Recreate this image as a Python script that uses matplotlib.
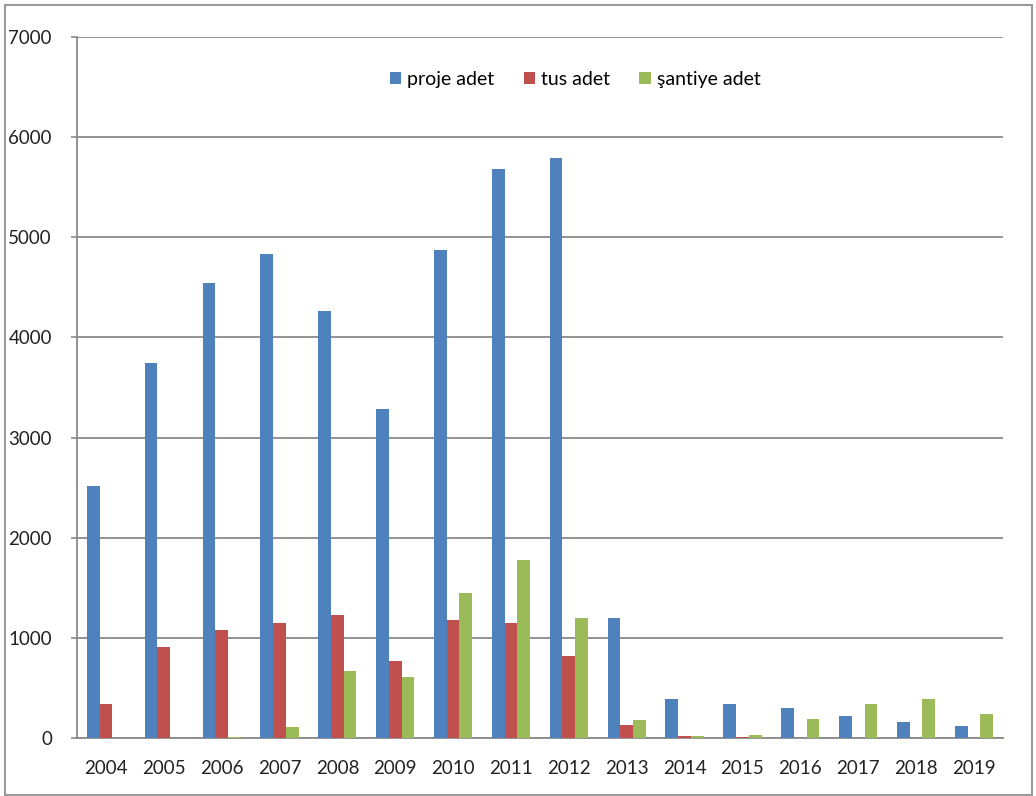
import matplotlib.pyplot as plt
import matplotlib.patches as mpatches
import numpy as np

plt.rcParams['font.family'] = ['Lato', 'DejaVu Sans']

years = ['2004', '2005', '2006', '2007', '2008', '2009', '2010', '2011',
         '2012', '2013', '2014', '2015', '2016', '2017', '2018', '2019']
proje = [2520, 3740, 4540, 4830, 4260, 3290, 4870, 5680,
         5790, 1200, 390, 340, 300, 220, 155, 120]
tus = [336, 910, 1080, 1150, 1230, 765, 1180, 1150,
       815, 128, 17, 10, 0, 0, 0, 0]
santiye = [0, 0, 10, 110, 665, 605, 1450, 1780,
           1200, 175, 15, 33, 185, 336, 393, 238]
labels = ['proje adet', 'tus adet', 'şantiye adet']
colors = ['#4F81BD', '#C0504D', '#9BBB59']

fig = plt.figure(figsize=(10.36, 7.96), dpi=100)
ax = fig.add_axes([0.0743, 0.0729, 0.8937, 0.8806])

x = np.arange(len(years))
w = 0.22
for i, (vals, lab, col) in enumerate(zip([proje, tus, santiye], labels, colors)):
    ax.bar(x + (i - 1) * w, vals, width=w, color=col, label=lab, zorder=3)

ax.set_xlim(-0.5, len(years) - 0.5)
ax.set_ylim(0, 7000)
ax.set_yticks(np.arange(0, 7001, 1000))
ax.set_xticks(x)
ax.set_xticklabels(years)
ax.yaxis.grid(True, color='#8a8a8a', linewidth=1.3, zorder=0)

for s in ['top', 'right']:
    ax.spines[s].set_visible(False)
for s in ['left', 'bottom']:
    ax.spines[s].set_color('#8a8a8a')
    ax.spines[s].set_linewidth(1.3)

ax.tick_params(axis='x', length=0, pad=16, labelsize=13.5, colors='#222222')
ax.tick_params(axis='y', length=4, width=1.2, color='#8a8a8a', pad=14,
               labelsize=13.5, labelcolor='#222222')

ax.legend(loc='center', bbox_to_anchor=(0.538, 0.94), ncol=3, frameon=False,
          fontsize=14, handlelength=0.6, handleheight=0.6,
          handletextpad=0.3, columnspacing=1.5)

# outer chart border
fig.patches.append(mpatches.Rectangle((5 / 1036, 1 / 796), 1027 / 1036, 790 / 796,
                                      transform=fig.transFigure, fill=False,
                                      edgecolor='#9a9a9a', linewidth=1.5))

fig.savefig('out.png', dpi=100)
